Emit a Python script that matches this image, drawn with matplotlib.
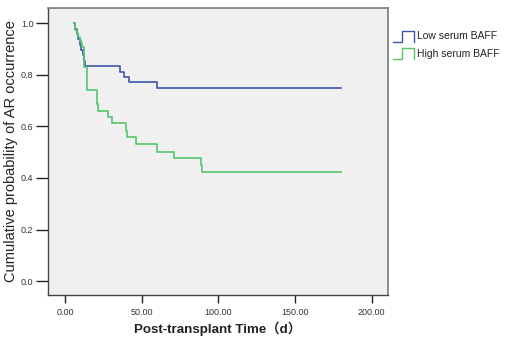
import matplotlib
matplotlib.use("Agg")
import matplotlib.pyplot as plt
from matplotlib.legend_handler import HandlerBase
from matplotlib.lines import Line2D
import numpy as np

plt.rcParams['font.family'] = ['Liberation Sans', 'Noto Sans CJK SC', 'DejaVu Sans']

# Data (time in days, cumulative probability)
low_times = [6.0, 6.5, 7.5, 8.5, 9.5, 10.5, 11.5, 12.5, 13.3, 36.0, 38.7, 41.7, 59.8, 180.0]
low_surv = [1.0, 0.979, 0.958, 0.938, 0.917, 0.896, 0.875, 0.854, 0.833, 0.8125, 0.792, 0.771, 0.75, 0.75]

high_times = [6.0, 6.5, 7.5, 8.5, 9.5, 10.3, 11.0, 12.4, 14.3, 20.6, 21.7, 28.2, 30.4,
              39.5, 40.5, 46.0, 59.8, 70.8, 88.7, 89.5, 180.0]
high_surv = [1.0, 0.974, 0.961, 0.948, 0.935, 0.922, 0.909, 0.83, 0.741, 0.687, 0.661, 0.635, 0.612,
             0.583, 0.558, 0.530, 0.502, 0.476, 0.450, 0.423, 0.423]

series_labels = ["Low serum BAFF", "High serum BAFF"]
x_ticks = [0, 50, 100, 150, 200]
x_tick_labels = ["0.00", "50.00", "100.00", "150.00", "200.00"]
y_ticks = [0.0, 0.2, 0.4, 0.6, 0.8, 1.0]
y_tick_labels = ["0.0", "0.2", "0.4", "0.6", "0.8", "1.0"]

BLUE = "#3f55a8"
GREEN = "#55c46a"

fig = plt.figure(figsize=(5.10, 3.43), dpi=100)
ax = fig.add_axes([48/510, 1-294.5/343, 340/510, 286.5/343])
ax.set_facecolor("#f0f0f0")

ax.step(low_times, low_surv, where="post", color=BLUE, lw=1.2, label=series_labels[0])
ax.step(high_times, high_surv, where="post", color=GREEN, lw=1.2, label=series_labels[1])

ax.set_xlim(-11.1, 210.6)
ax.set_ylim(-0.052, 1.059)

ax.set_xticks(x_ticks)
ax.set_xticklabels(x_tick_labels)
ax.set_yticks(y_ticks)
ax.set_yticklabels(y_tick_labels)
ax.tick_params(axis='x', length=6, width=1, color="#222222", labelsize=6.5,
               labelcolor="#333333", pad=4)
ax.tick_params(axis='y', length=9, width=1, color="#222222", labelsize=6.5,
               labelcolor="#333333", pad=1.5)

for s in ['top', 'right']:
    ax.spines[s].set_color("#777777")
    ax.spines[s].set_linewidth(1.2)
for s in ['left', 'bottom']:
    ax.spines[s].set_color("#444444")
    ax.spines[s].set_linewidth(1.0)

ax.set_xlabel("Post-transplant Time（d）", fontsize=9.6, fontweight='bold', color="#222222", labelpad=3)
ax.set_ylabel("Cumulative probability of AR occurrence", fontsize=10.5, color="#222222", labelpad=2)


class StepHandler(HandlerBase):
    def create_artists(self, legend, orig_handle, xdescent, ydescent, width, height, fontsize, trans):
        c = orig_handle.get_color()
        xs = [0, 0.45 * width, 0.45 * width, width, width]
        ys = [0, 0, height * 1.5, height * 1.5, 0]
        ln = Line2D([x - xdescent for x in xs], [y - ydescent - 0.35 * height for y in ys],
                    color=c, lw=1.0, transform=trans)
        return [ln]


handles = [Line2D([], [], color=BLUE), Line2D([], [], color=GREEN)]
leg = fig.legend(handles, series_labels, loc='upper left', bbox_to_anchor=(393/510, 1-31/343),
                 frameon=False, fontsize=7.5, handler_map={Line2D: StepHandler()},
                 handlelength=2.0, handletextpad=0.3, labelspacing=0.75, borderaxespad=0,
                 borderpad=0)
for t in leg.get_texts():
    t.set_color("#222222")

fig.savefig("out.png", dpi=100)
